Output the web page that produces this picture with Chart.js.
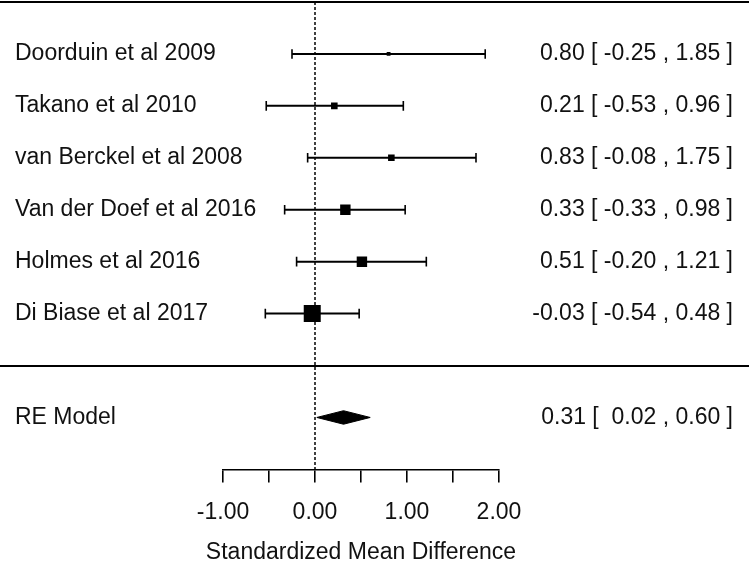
<!DOCTYPE html>
<html>
<head>
<meta charset="utf-8">
<title>Forest plot</title>
<script src="https://cdn.jsdelivr.net/npm/chart.js@4.4.1/dist/chart.umd.min.js"></script>
<style>
  html, body { margin: 0; padding: 0; background: #fff; }
  #wrap { width: 749px; height: 568px; }
</style>
</head>
<body>
<div id="wrap"><canvas id="graficoForest"></canvas></div>
<script>
// Estudos (de cima para baixo)
const estudos = ['Doorduin et al 2009', 'Takano et al 2010', 'van Berckel et al 2008',
                 'Van der Doef et al 2016', 'Holmes et al 2016', 'Di Biase et al 2017'];
const estimativas = [0.80, 0.21, 0.83, 0.33, 0.51, -0.03];
const limInferior = [-0.25, -0.53, -0.08, -0.33, -0.20, -0.54];
const limSuperior = [1.85, 0.96, 1.75, 0.98, 1.21, 0.48];
const pesos = [7, 12, 12, 19, 19, 31]; // peso relativo (%) -> tamanho do quadrado

// Modelo de efeitos aleatórios
const reRotulo = 'RE Model';
const reEstimativa = 0.31;
const reInferior = 0.02;
const reSuperior = 0.60;

const tituloEixo = 'Standardized Mean Difference';

const familia = '"Liberation Sans", Arial, sans-serif';
const fonte = '23px ' + familia;
const linhaDe = i => estudos.length - i; // linha 6 no topo, 1 embaixo
const linhaRE = -1;

// segmentos dos intervalos de confiança (null separa os segmentos)
const pontosIC = [];
estudos.forEach((e, i) => {
    pontosIC.push({ x: limInferior[i], y: linhaDe(i) });
    pontosIC.push({ x: limSuperior[i], y: linhaDe(i) });
    pontosIC.push({ x: limSuperior[i], y: null });
});

const alturaDiamante = 0.13;
const fmt = v => v.toFixed(2);

const textosPlugin = {
    id: 'textos',
    afterDraw(chart) {
        const ctx = chart.ctx;
        const xs = chart.scales.x;
        const ys = chart.scales.y;
        ctx.save();
        // linhas horizontais (topo e separador)
        ctx.strokeStyle = '#000';
        ctx.lineWidth = 2;
        [7, 0].forEach(r => {
            const y = Math.round(ys.getPixelForValue(r));
            ctx.beginPath();
            ctx.moveTo(0, y);
            ctx.lineTo(chart.width, y);
            ctx.stroke();
        });
        ctx.font = fonte;
        ctx.fillStyle = '#111';
        ctx.textBaseline = 'middle';
        estudos.forEach((e, i) => {
            const y = ys.getPixelForValue(linhaDe(i));
            ctx.textAlign = 'left';
            ctx.fillText(e, 15, y);
            ctx.textAlign = 'right';
            ctx.fillText(fmt(estimativas[i]) + ' [ ' + fmt(limInferior[i]) + ' , ' + fmt(limSuperior[i]) + ' ]', 733, y);
        });
        const yRE = ys.getPixelForValue(linhaRE);
        ctx.textAlign = 'left';
        ctx.fillText(reRotulo, 15, yRE);
        ctx.textAlign = 'right';
        ctx.fillText(fmt(reEstimativa) + ' [  ' + fmt(reInferior) + ' , ' + fmt(reSuperior) + ' ]', 733, yRE);
        // título do eixo x, centrado na escala
        ctx.textAlign = 'center';
        ctx.fillText(tituloEixo, xs.getPixelForValue((xs.min + xs.max) / 2), 553);
        ctx.restore();
    }
};

const config = {
    type: 'scatter',
    data: {
        datasets: [
            {   // quadrados (estimativas)
                data: estimativas.map((v, i) => ({ x: v, y: linhaDe(i) })),
                pointStyle: 'rect',
                pointRadius: pesos.map(p => p * 17 / 31 / Math.SQRT2),
                backgroundColor: '#000',
                borderWidth: 0
            },
            {   // intervalos de confiança
                data: pontosIC,
                showLine: true,
                spanGaps: false,
                borderColor: '#000',
                borderWidth: 2,
                pointStyle: 'line',
                rotation: 90,
                pointRadius: 4.8,
                pointBorderWidth: 1.6,
                pointBorderColor: '#000'
            },
            {   // diamante do modelo RE
                data: [
                    { x: reInferior, y: linhaRE },
                    { x: reEstimativa, y: linhaRE + alturaDiamante },
                    { x: reSuperior, y: linhaRE },
                    { x: reEstimativa, y: linhaRE - alturaDiamante },
                    { x: reInferior, y: linhaRE }
                ],
                showLine: true,
                fill: 'shape',
                backgroundColor: '#000',
                borderColor: '#000',
                borderWidth: 1,
                pointRadius: 0
            },
            {   // linha de referência em zero
                data: [{ x: 0, y: 7 }, { x: 0, y: -2 }],
                showLine: true,
                borderColor: '#000',
                borderWidth: 1.5,
                borderDash: [3, 2],
                pointRadius: 0
            }
        ]
    },
    options: {
        responsive: true,
        maintainAspectRatio: false,
        animation: false,
        layout: { autoPadding: false, padding: { left: 223, right: 250, top: 2, bottom: 26 } },
        plugins: { legend: { display: false }, tooltip: { enabled: false } },
        scales: {
            x: {
                type: 'linear',
                min: -1,
                max: 2,
                border: { display: true, color: '#000', width: 1.6 },
                grid: { drawOnChartArea: false, drawTicks: true, tickLength: 13, color: '#000', lineWidth: 1.6 },
                ticks: {
                    stepSize: 0.5,
                    autoSkip: false,
                    maxRotation: 0,
                    padding: 16,
                    color: '#111',
                    font: { family: familia, size: 23 },
                    callback: v => (Math.abs(v % 1) < 1e-9 ? v.toFixed(2) : '')
                }
            },
            y: { type: 'linear', min: -2, max: 7, display: false }
        }
    },
    plugins: [textosPlugin]
};

window.onload = function() {
    const ctx = document.getElementById('graficoForest').getContext('2d');
    new Chart(ctx, config);
};
</script>
</body>
</html>
